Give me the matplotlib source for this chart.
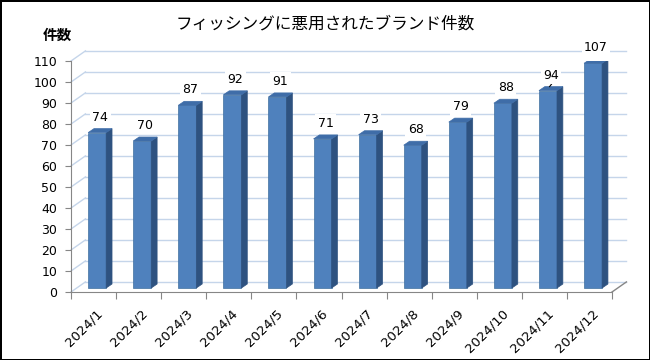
import matplotlib.pyplot as plt
from matplotlib.patches import Polygon

plt.rcParams['font.family'] = ['DejaVu Sans', 'Noto Sans CJK JP']

# データ
months = ['2024/1', '2024/2', '2024/3', '2024/4', '2024/5', '2024/6',
          '2024/7', '2024/8', '2024/9', '2024/10', '2024/11', '2024/12']
counts = [74, 70, 87, 92, 91, 71, 73, 68, 79, 88, 94, 107]
y_ticks = list(range(0, 111, 10))

title = 'フィッシングに悪用されたブランド件数'
y_label = '件数'

# 3D風の奥行き (データ単位)
WALL_DX, WALL_DY = 0.32, 4.8
BAR_OFF, BAR_W = 0.38, 0.40
BAR_DX, BAR_DY = 0.13, 1.9
BASE = 1.9

c_front = '#4F81BD'
c_side = '#2E5280'
c_top = '#3F6DA8'
c_grid = '#C5D5EA'
c_axis = '#868686'

fig = plt.figure(figsize=(6.5, 3.6), dpi=100, edgecolor='black', linewidth=2)
ax = fig.add_axes([71 / 650, 68 / 360, 541 / 650, 231 / 360])
ax.set_xlim(0, len(months))
ax.set_ylim(0, 110)
ax.patch.set_alpha(0)

# 壁のグリッド線
n = len(months)
for v in y_ticks:
    ax.plot([WALL_DX, n + WALL_DX], [v + WALL_DY, v + WALL_DY], color=c_grid, lw=1, clip_on=False, zorder=1)
    ax.plot([0, WALL_DX], [v, v + WALL_DY], color=c_grid, lw=1, clip_on=False, zorder=1)
ax.plot([n, n + WALL_DX], [0, WALL_DY], color=c_axis, lw=1, clip_on=False, zorder=1)

# 棒
for i, v in enumerate(counts):
    x0 = i + BAR_OFF
    ax.bar(x0, v, width=BAR_W, bottom=BASE, align='edge', color=c_front,
           edgecolor='#41709F', linewidth=0.5, zorder=3)
    side = [(x0 + BAR_W, BASE), (x0 + BAR_W + BAR_DX, BASE + BAR_DY),
            (x0 + BAR_W + BAR_DX, BASE + v + BAR_DY), (x0 + BAR_W, BASE + v)]
    top = [(x0, BASE + v), (x0 + BAR_W, BASE + v),
           (x0 + BAR_W + BAR_DX, BASE + v + BAR_DY), (x0 + BAR_DX, BASE + v + BAR_DY)]
    ax.add_patch(Polygon(side, closed=True, facecolor=c_side, edgecolor=c_side, lw=0.5, zorder=3))
    ax.add_patch(Polygon(top, closed=True, facecolor=c_top, edgecolor=c_top, lw=0.5, zorder=3))
    lx = x0 + BAR_W / 2 + BAR_DX / 2
    ly = BASE + v + BAR_DY + 5.5
    if i == 10:
        ax.plot([lx - 0.03, lx + 0.08], [BASE + v + BAR_DY, ly - 2.5], color='black', lw=0.8, zorder=4)
    ax.text(lx, ly, str(v), ha='center', va='center', fontsize=9, zorder=5, clip_on=False,
            bbox=dict(boxstyle='square,pad=0.2', facecolor='white', edgecolor='none'))

# 軸
for s in ['top', 'right']:
    ax.spines[s].set_visible(False)
for s in ['left', 'bottom']:
    ax.spines[s].set_color(c_axis)
ax.set_yticks(y_ticks)
ax.tick_params(axis='y', colors=c_axis, length=4, labelcolor='black', labelsize=9, pad=6)
ax.set_xticks(range(n + 1))
ax.set_xticklabels([])
ax.tick_params(axis='x', which='major', colors=c_axis, length=5)
ax.set_xticks([i + 0.55 for i in range(n)], minor=True)
ax.set_xticklabels(months, minor=True, rotation=45, ha='right', va='top',
                   rotation_mode='anchor', fontsize=9.5)
ax.tick_params(axis='x', which='minor', length=0, pad=11)

fig.text(0.5, 0.935, title, ha='center', va='center', fontsize=12)
fig.text(43 / 650, 0.902, y_label, ha='left', va='center', fontsize=10.5, fontweight='bold')

fig.savefig('out.png', dpi=100)
